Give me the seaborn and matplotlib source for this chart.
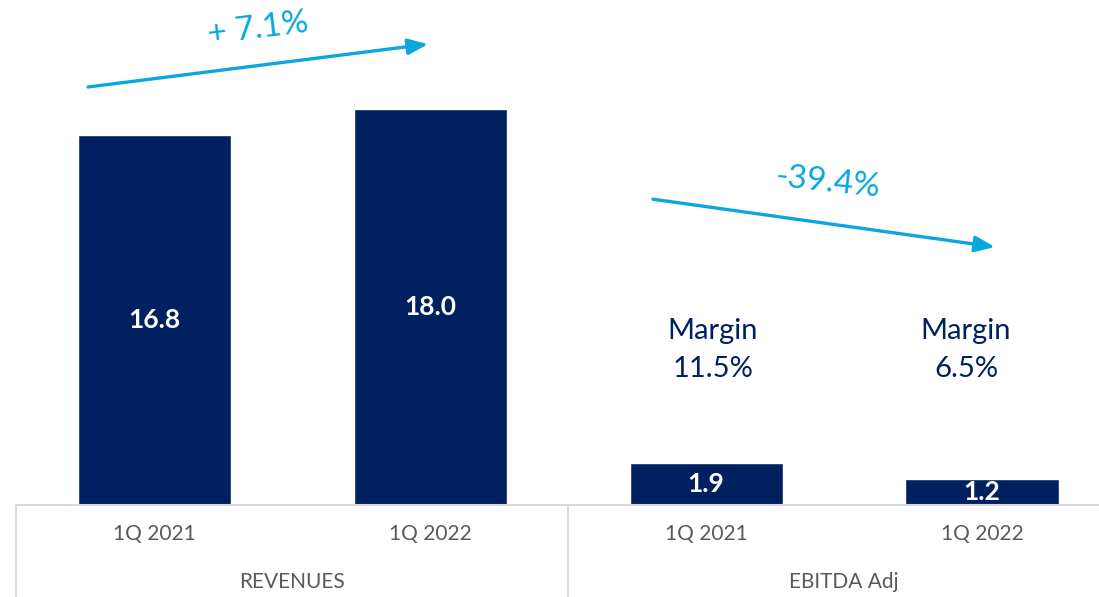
import matplotlib
matplotlib.use("Agg")
import matplotlib.pyplot as plt
import matplotlib.transforms as mtransforms
import seaborn as sns
import pandas as pd

# ---- data ----
groups = ["REVENUES", "REVENUES", "EBITDA Adj", "EBITDA Adj"]
periods = ["1Q 2021", "1Q 2022", "1Q 2021", "1Q 2022"]
values = [16.8, 18.0, 1.9, 1.2]
value_labels = ["16.8", "18.0", "1.9", "1.2"]
group_names = ["REVENUES", "EBITDA Adj"]
margin_labels = ["11.5%", "6.5%"]
change_labels = ["+ 7.1%", "-39.4%"]

df = pd.DataFrame({"bar": [f"{g} {p}" for g, p in zip(groups, periods)],
                   "value": values})

sns.set_theme(style="white")
plt.rcParams["font.family"] = ["Lato", "DejaVu Sans"]

NAVY = "#002060"
BLUE = "#0AA6E0"
GRAY = "#595959"
LINE = "#D9D9D9"

W, H = 1099, 597
fig = plt.figure(figsize=(W / 100, H / 100), dpi=100)
base_px = 505
ax = fig.add_axes([16 / W, (H - base_px) / H, (W - 16) / W, base_px / H])

sns.barplot(data=df, x="bar", y="value", color=NAVY, width=153 / 276,
            saturation=1, ax=ax)

ax.set_xlim(-0.5, -0.5 + (W - 16) / 276)
ax.set_ylim(0, base_px / 22)
ax.set_xlabel("")
ax.set_ylabel("")
ax.set_yticks([])
ax.set_xticks(range(len(periods)))
ax.set_xticklabels(periods, color=GRAY, fontsize=15)
ax.tick_params(axis="x", length=0, pad=14)
for s in ["left", "right", "top"]:
    ax.spines[s].set_visible(False)
ax.spines["bottom"].set_color(LINE)
ax.spines["bottom"].set_linewidth(1.5)

# value labels inside bars
for i, (v, lab) in enumerate(zip(values, value_labels)):
    ax.text(i, v / 2, lab, ha="center", va="center", color="white",
            fontsize=19, fontweight="bold")

# group separators and labels below axis
trans = mtransforms.blended_transform_factory(ax.transData, ax.transAxes)
bottom_frac = -(H - base_px) / base_px
for xline in [-0.5, 1.5]:
    ax.plot([xline, xline], [0, bottom_frac], transform=trans, color=LINE,
            lw=1.5, clip_on=False)
for gx, name in zip([0.5, 2.5], group_names):
    ax.text(gx, -(582 - base_px) / base_px, name, transform=trans,
            ha="center", va="center", color=GRAY, fontsize=15)

# margin annotations
for mx, m in zip([2.025, 2.942], margin_labels):
    ax.text(mx, 7.9, "Margin", ha="center", va="center", color=NAVY, fontsize=21)
    ax.text(mx, 6.18, m, ha="center", va="center", color=NAVY, fontsize=21)

# change arrows
arrows = [((-0.239, 19.0), (0.993, 20.95)), ((1.808, 13.9), (3.047, 11.73))]
for (s, e) in arrows:
    ax.annotate("", xy=e, xytext=s,
                arrowprops=dict(arrowstyle="-|>,head_length=1.0,head_width=0.4",
                                color=BLUE, lw=2.4, shrinkA=0, shrinkB=0),
                annotation_clip=False)
ax.text(0.377, 21.65, change_labels[0], ha="center", va="center", color=BLUE,
        fontsize=24, rotation=7)
ax.text(2.442, 14.64, change_labels[1], ha="center", va="center", color=BLUE,
        fontsize=24, rotation=-6)

fig.savefig("out.png", dpi=100)
